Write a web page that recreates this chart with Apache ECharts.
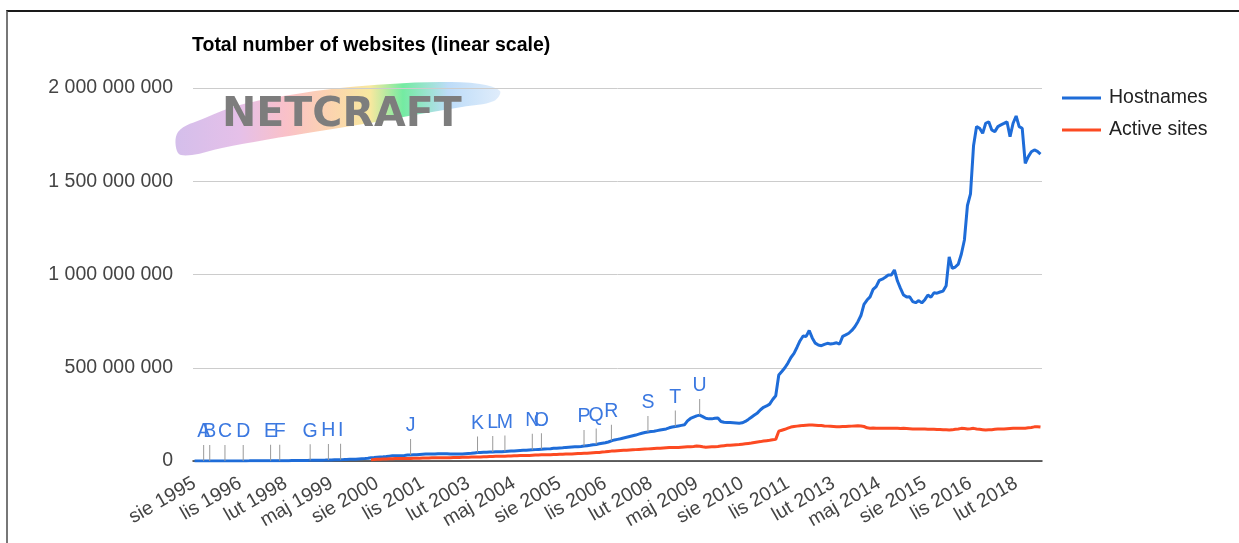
<!DOCTYPE html>
<html>
<head>
<meta charset="utf-8">
<script src="https://cdn.jsdelivr.net/npm/echarts@6/dist/echarts.min.js"></script>
<style>
  html, body { margin: 0; padding: 0; background: #fff; }
  #wrap { position: relative; width: 1239px; height: 543px; }
  #chart { width: 1239px; height: 543px; }
  /* ramka ze zrzutu ekranu */
  #frame {
    position: absolute; left: 6px; top: 10px; right: 0; bottom: 0;
    border-top: 2px solid #1a1a1a; border-left: 2px solid #777;
    pointer-events: none;
  }
</style>
</head>
<body>
<div id="wrap">
  <div id="chart"></div>
  <div id="frame"></div>
</div>
<script>
// miesiące po polsku (skróty jak na osi)
const monthNames = ['sty', 'lut', 'mar', 'kwi', 'maj', 'cze', 'lip', 'sie', 'wrz', 'paź', 'lis', 'gru'];

// Hostnames, w milionach, co miesiąc od sie 1995
const hostnames = [
    0.02, 0.03, 0.05, 0.07, 0.07, 0.1, 0.1, 0.14, 0.16, 0.2, 0.25, 0.3,
    0.34, 0.4, 0.46, 0.53, 0.6, 0.65, 0.7, 0.8, 0.9, 1.0, 1.1, 1.2,
    1.3, 1.4, 1.5, 1.6, 1.7, 1.8, 1.9, 2.0, 2.2, 2.4, 2.6, 2.8,
    3.0, 3.2, 3.4, 3.6, 3.7, 4.1, 4.4, 4.7, 5.1, 5.6, 6.2, 6.6,
    7.1, 7.4, 8.0, 8.8, 9.6, 9.6, 11.2, 12.3, 13.1, 14.2, 17.1, 18.2,
    19.8, 21.2, 22.3, 23.8, 25.7, 27.6, 27.9, 28.7, 28.6, 29.3, 31.6, 31.9,
    33, 34, 35, 36, 37, 37, 38, 38, 39, 39, 39, 39,
    38, 38, 38, 38, 38, 39, 40, 41, 43, 45, 46, 47,
    47, 48, 48, 49, 50, 50, 51, 52, 53, 54, 55, 56,
    57, 58, 59, 60, 61, 62, 63, 64, 65, 66, 68, 69,
    70, 71, 73, 74, 75, 76, 77, 78, 80, 82, 84, 87,
    89, 92, 95, 98, 102, 108, 113, 116, 119, 123, 127, 131,
    135, 139, 144, 149, 153, 156, 158, 160, 163, 166, 169, 172,
    178, 182, 185, 188, 191, 194, 215, 228, 235, 242, 246, 238,
    229, 226, 226, 229, 231, 212, 208, 207, 206, 205, 204, 203,
    205, 212, 223, 235, 247, 258, 275, 288, 295, 305, 330, 350,
    461, 480, 500, 525, 555, 577, 610, 645, 670, 668, 700, 660,
    632, 622, 618, 625, 631, 627, 630, 634, 627, 668, 676, 685,
    700, 720, 747, 780, 840, 863, 880, 920, 935, 968, 975, 985,
    997, 997, 1024, 965, 926, 890, 880, 881, 855, 849, 860, 848,
    865, 890, 878, 902, 900, 906, 911, 940, 1095, 1033, 1040, 1056,
    1110, 1185, 1370, 1432, 1690, 1793, 1784, 1757, 1811, 1819, 1775, 1766,
    1793, 1802, 1810, 1819, 1739, 1811, 1850, 1793, 1784, 1596, 1632, 1658,
    1668, 1660, 1645
];

// Active sites, w milionach, od cze 2000 (indeks 58)
const activeStart = 58;
const activeSites = [
    6, 8,
    9, 10, 11, 11, 12, 12, 13, 13, 13, 14, 14, 14,
    15, 15, 15, 16, 16, 16, 17, 17, 17, 18, 18, 18,
    18, 19, 19, 19, 20, 20, 20, 21, 21, 22, 22, 23,
    23, 24, 24, 25, 25, 26, 26, 27, 27, 28, 28, 29,
    29, 30, 30, 31, 32, 32, 33, 33, 34, 34, 35, 35,
    36, 36, 37, 38, 38, 39, 40, 40, 41, 42, 43, 44,
    45, 46, 48, 49, 51, 53, 54, 55, 56, 57, 58, 59,
    60, 61, 62, 63, 64, 65, 66, 67, 68, 69, 70, 71,
    72, 72, 73, 73, 74, 75, 76, 77, 78, 80, 79, 76,
    74, 75, 76, 77, 78, 80, 82, 84, 85, 86, 87, 88,
    90, 92, 94, 96, 99, 102, 104, 107, 109, 111, 114, 116,
    160, 165, 170, 176, 182, 185, 187, 189, 191, 192, 193, 193,
    192, 191, 190, 188, 187, 186, 185, 184, 184, 185, 185, 186,
    187, 188, 189, 188, 185, 178, 176, 177, 176, 175, 176, 175,
    176, 175, 176, 175, 174, 175, 174, 173, 172, 172, 171, 171,
    171, 170, 170, 170, 169, 169, 168, 167, 166, 167, 170, 172,
    175, 174, 172, 173, 175, 172, 170, 168, 166, 167, 168, 170,
    171, 172, 172, 173, 174, 175, 176, 175, 175, 176, 178, 180,
    183, 184, 182
];

// adnotacje (litery) i miesiąc, przy którym stoją
const annLetters = ['A', 'B', 'C', 'D', 'E', 'F', 'G', 'H', 'I', 'J', 'K', 'L', 'M', 'N', 'O', 'P', 'Q', 'R', 'S', 'T', 'U'];
const annIndex = [3, 5, 10, 16, 25, 28, 38, 44, 48, 71, 93, 98, 102, 111, 114, 128, 132, 137, 149, 158, 166];

// kategorie: "sie 1995", "wrz 1995", ...
const categories = [];
for (let i = 0; i < hostnames.length; i++) {
    const m = (7 + i) % 12;
    const y = 1995 + Math.floor((7 + i) / 12);
    categories.push(monthNames[m] + ' ' + y);
}

const FONT = 'Arial, "Liberation Sans", sans-serif';

function spaced(v) {
    return String(v).replace(/\B(?=(\d{3})+(?!\d))/g, ' ');
}

let chart = echarts.init(document.getElementById('chart'));

let option = {
    animation: false,
    textStyle: {fontFamily: FONT},
    title: {
        text: 'Total number of websites (linear scale)',
        left: 192,
        top: 36,
        padding: 0,
        textStyle: {fontSize: 19.5, fontWeight: 'bold', color: '#000', fontFamily: FONT}
    },
    legend: {
        orient: 'vertical',
        left: 1062,
        top: 88,
        padding: 0,
        itemWidth: 39,
        itemHeight: 3,
        itemGap: 12,
        icon: 'rect',
        textStyle: {fontSize: 19.5, color: '#222', fontFamily: FONT, padding: [0, 0, 0, 3]},
        data: ['Hostnames', 'Active sites']
    },
    grid: {left: 193, right: 197, top: 88, bottom: 82},
    // logo Netcraft w tle
    graphic: [
        {
            type: 'polygon',
            z: -10,
            shape: {
                smooth: 0.35,
                points: [
                    [178, 132], [205, 118], [240, 105], [290, 95], [340, 88], [390, 84], [440, 82],
                    [480, 84], [500, 91], [494, 101], [462, 107], [420, 114], [370, 123], [320, 131],
                    [265, 140], [222, 148], [192, 155], [178, 153]
                ]
            },
            style: {
                opacity: 0.72,
                fill: new echarts.graphic.LinearGradient(0, 0, 1, 0, [
                    {offset: 0, color: '#c4a6e4'},
                    {offset: 0.2, color: '#dca8e0'},
                    {offset: 0.34, color: '#f8a9b4'},
                    {offset: 0.48, color: '#fbc490'},
                    {offset: 0.6, color: '#f5e07a'},
                    {offset: 0.7, color: '#3ee47e'},
                    {offset: 0.84, color: '#a4cff6'},
                    {offset: 1, color: '#d4e6fa'}
                ])
            }
        },
        {
            type: 'text',
            z: -9,
            left: 222,
            top: 95,
            style: {
                text: 'NETCRAFT',
                fill: '#7d7d7d',
                font: 'bold 41px "DejaVu Sans", sans-serif'
            }
        }
    ],
    xAxis: {
        type: 'category',
        data: categories,
        boundaryGap: true,
        axisTick: {show: false},
        axisLine: {lineStyle: {color: '#333', width: 1.5}},
        axisLabel: {
            interval: 14,
            rotate: 30,
            margin: 21,
            color: '#444',
            fontSize: 19.5,
            fontFamily: FONT,
            hideOverlap: false
        }
    },
    yAxis: {
        type: 'value',
        min: 0,
        max: 2000000000,
        interval: 500000000,
        axisLine: {show: false},
        axisTick: {show: false},
        splitLine: {lineStyle: {color: '#ccc', width: 1}},
        axisLabel: {
            margin: 20,
            color: '#444',
            fontSize: 19.5,
            fontFamily: FONT,
            formatter: spaced
        }
    },
    series: [
        {
            name: 'Hostnames',
            type: 'line',
            showSymbol: false,
            color: '#1e6cd8',
            lineStyle: {width: 3, color: '#1e6cd8'},
            data: hostnames.map(v => v * 1e6),
            markPoint: {
                symbol: 'rect',
                symbolSize: [1, 16],
                symbolOffset: [0, -8],
                itemStyle: {color: '#9a9a9a'},
                label: {
                    show: true,
                    position: 'top',
                    distance: 3,
                    color: '#3b78e0',
                    fontSize: 19.5,
                    fontFamily: FONT,
                    formatter: '{b}'
                },
                data: annLetters.map((l, k) => ({
                    name: l,
                    coord: [annIndex[k], hostnames[annIndex[k]] * 1e6]
                }))
            }
        },
        {
            name: 'Active sites',
            type: 'line',
            showSymbol: false,
            color: '#fc4a22',
            lineStyle: {width: 3, color: '#fc4a22'},
            data: activeSites.map((v, k) => [activeStart + k, v * 1e6])
        }
    ]
};

chart.setOption(option);
</script>
</body>
</html>
